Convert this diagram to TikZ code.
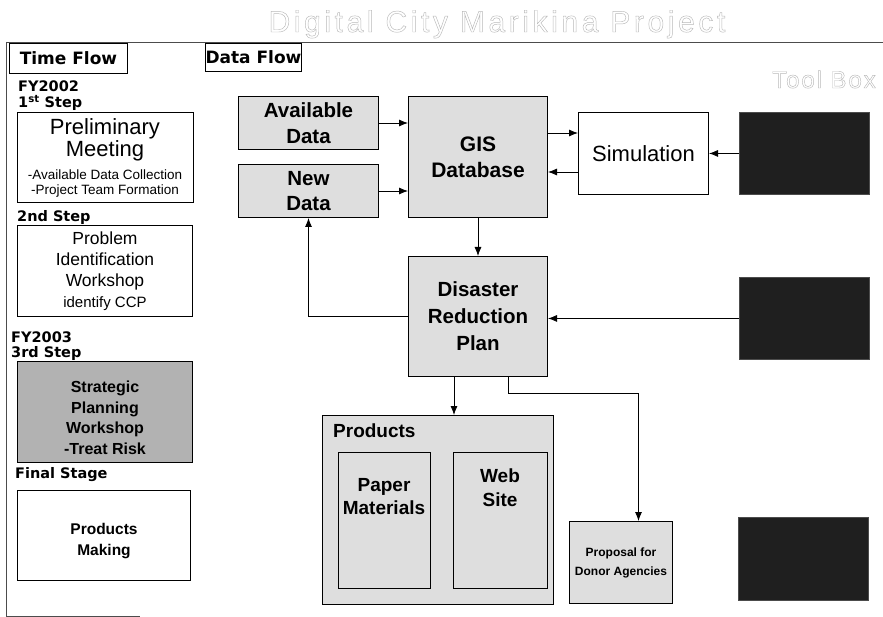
\documentclass[tikz,border=0pt]{standalone}
\usepackage{fontspec}
\setmainfont{Liberation Sans}
\newfontfamily\heavyfont{DejaVu Sans}
\newfontfamily\titlefont[LetterSpace=12]{Liberation Sans}
\newfontfamily\toolfont[LetterSpace=8]{Liberation Sans}
\usetikzlibrary{arrows.meta}
% hollow (stroked) lettering for the faint captions
\newcommand{\hollow}[1]{\special{pdf:literal direct 1 Tr 0.45 w 0.72 G}#1\special{pdf:literal direct 0 Tr}}

\begin{document}
\begin{tikzpicture}[x=1pt,y=-1pt,
  box/.style={draw, line width=1pt, inner sep=0pt, anchor=north west, align=center},
  stipple/.style={fill=black!13},
  heavystip/.style={fill=black!30},
  dark/.style={draw=black!70, line width=0.9pt, fill=black!88, inner sep=0pt, anchor=north west},
  arr/.style={line width=0.8pt, -{Latex[length=9pt,width=7pt]}},
  panel/.style={draw=black!70, line width=0.9pt},
  heavylbl/.style={font=\heavyfont\bfseries\fontsize{14.5}{16}\selectfont, anchor=base west, inner sep=0pt},
  headbox/.style={box, font=\heavyfont\bfseries\fontsize{17}{20}\selectfont},
  faint/.style={inner sep=0pt}
]
\useasboundingbox (0,0) rectangle (883,617);

% title and tool box captions
\node[faint, font=\titlefont\fontsize{30}{34}\selectfont, anchor=base] (title) at (497,32) {\hollow{Digital City Marikina Project}};
\node[faint, font=\toolfont\fontsize{24}{28}\selectfont, anchor=base west] (toolbox) at (772,88) {\hollow{Tool Box}};

% frame of the time-flow panel and the header rule
\draw[panel] (6,42) -- (883,42);
\draw[panel] (6,42) -- (6,616) -- (140,616);

% column headers
\node[headbox, minimum width=118pt, minimum height=30pt] (timeflow) at (9,43) {Time Flow};
\node[headbox, minimum width=92pt, minimum height=28pt] (dataflow) at (205,43) {Data Flow};

% ---------- time flow ----------
\node[heavylbl] (fy02) at (18,92) {FY2002};
\node[heavylbl] (step1) at (18,108) {1\textsuperscript{st} Step};
\node[box, minimum width=176pt, minimum height=90pt] (prelim) at (17,112) {};
\node[anchor=base, inner sep=0pt, font=\fontsize{22}{26}\selectfont] (prelimA) at (105,135) {Preliminary};
\node[anchor=base, inner sep=0pt, font=\fontsize{22}{26}\selectfont] (prelimB) at (105,157) {Meeting};
\node[anchor=base, inner sep=0pt, font=\fontsize{13.5}{15}\selectfont] (prelimC) at (105,180) {-Available Data Collection};
\node[anchor=base, inner sep=0pt, font=\fontsize{13.5}{15}\selectfont] (prelimD) at (105,195) {-Project Team Formation};

\node[heavylbl] (step2) at (17,222) {2nd Step};
\node[box, minimum width=175pt, minimum height=91pt, font=\fontsize{17.5}{21}\selectfont] (problem) at (17,225)
  {Problem\\Identification\\Workshop\\{\fontsize{15}{21}\selectfont identify CCP}};

\node[heavylbl] (fy03) at (11,343) {FY2003};
\node[heavylbl] (step3) at (11,357) {3rd Step};
\node[box, heavystip, minimum width=175pt, minimum height=101pt] (strategic) at (17,361) {};
\node[align=center, inner sep=0pt, font=\bfseries\fontsize{16}{20.5}\selectfont] (strategictxt) at ([yshift=-6pt]strategic.center)
  {Strategic\\Planning\\Workshop\\-Treat Risk};

\node[heavylbl] (final) at (15,478) {Final Stage};
\node[box, minimum width=173pt, minimum height=90pt] (making) at (17,490) {};
\node[align=center, inner sep=0pt, font=\bfseries\fontsize{15.5}{21}\selectfont] (makingtxt) at ([yshift=-6pt]making.center)
  {Products\\Making};

% ---------- data flow ----------
\node[box, stipple, minimum width=140pt, minimum height=53pt, font=\bfseries\fontsize{20.5}{26}\selectfont] (avail) at (238,96) {Available\\Data};
\node[box, stipple, minimum width=140pt, minimum height=53pt, font=\bfseries\fontsize{20.5}{25}\selectfont] (newd) at (238,164) {New\\Data};
\node[box, stipple, minimum width=139pt, minimum height=121pt, font=\bfseries\fontsize{21}{26}\selectfont] (gis) at (408,96) {GIS\\Database};
\node[box, minimum width=130pt, minimum height=82pt, font=\fontsize{22}{26}\selectfont] (sim) at (578,112) {Simulation};
\node[box, stipple, minimum width=139pt, minimum height=120pt, font=\bfseries\fontsize{20.5}{27}\selectfont] (dis) at (408,256) {Disaster\\Reduction\\Plan};

\node[box, stipple, minimum width=231pt, minimum height=189pt] (prod) at (322,415) {};
\node[anchor=base west, inner sep=0pt, font=\bfseries\fontsize{19}{22}\selectfont] (prodlbl) at (333,437) {Products};
\node[box, stipple, minimum width=92pt, minimum height=136pt] (paper) at (338,452) {};
\node[anchor=north, align=center, inner sep=0pt, font=\bfseries\fontsize{19}{23}\selectfont] (papertxt) at (384,478) {Paper\\Materials};
\node[box, stipple, minimum width=94pt, minimum height=136pt] (web) at (453,452) {};
\node[anchor=north, align=center, inner sep=0pt, font=\bfseries\fontsize{19}{24}\selectfont] (webtxt) at (500,469) {Web\\Site};
\node[box, stipple, minimum width=103pt, minimum height=82pt, font=\bfseries\fontsize{12}{19}\selectfont] (prop) at (569,521) {Proposal for\\Donor Agencies};

% tool box panels
\node[dark, minimum width=130pt, minimum height=82pt] (tool1) at (739,112) {};
\node[dark, minimum width=130pt, minimum height=82pt] (tool2) at (739,277) {};
\node[dark, minimum width=130pt, minimum height=83pt] (tool3) at (738,517) {};

% ---------- connectors ----------
\coordinate (lvlA) at (0,133);
\coordinate (lvlB) at (0,172);
\draw[arr] (avail.east) -- (avail.east -| gis.west);
\draw[arr] (newd.east) -- (newd.east -| gis.west);
\draw[arr] (gis.east |- lvlA) -- (sim.west |- lvlA);
\draw[arr] (sim.west |- lvlB) -- (gis.east |- lvlB);
\draw[arr] (tool1.west) -- (tool1.west -| sim.east);
\draw[arr] (tool2.west) -- (tool2.west -| dis.east);
\draw[arr] (gis.south) -- (dis.north);
\draw[arr] (dis.west) -| (newd.south);
\draw[arr] ([xshift=-24pt]dis.south) -- ([xshift=-24pt]dis.south |- prod.north);
\draw[arr] ([xshift=30pt]dis.south) -- ++(0,16) -| ([xshift=17.5pt]prop.north);
\end{tikzpicture}
\end{document}
